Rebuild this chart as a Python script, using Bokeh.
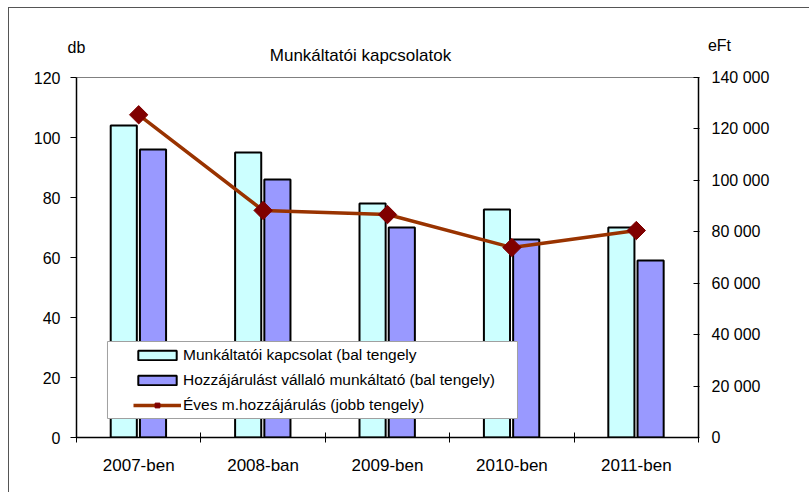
from math import pi
from bokeh.plotting import figure
from bokeh.layouts import column
from bokeh.models import (Range1d, LinearAxis, FixedTicker, Label, Legend, LegendItem,
                          BoxAnnotation, ColumnDataSource)
from bokeh.transform import dodge
from bokeh.embed import file_html
from bokeh.resources import INLINE

# ---- data ----
categories = ["2007-ben", "2008-ban", "2009-ben", "2010-ben", "2011-ben"]
munkaltatoi_kapcsolat = [104, 95, 78, 76, 70]
hozzajarulast_vallalo = [96, 86, 70, 66, 59]
eves_hozzajarulas = [125500, 88300, 86700, 73900, 80500]

left_ticks = [0, 20, 40, 60, 80, 100, 120]
right_ticks = [0, 20000, 40000, 60000, 80000, 100000, 120000, 140000]
right_tick_labels = ["0", "20 000", "40 000", "60 000", "80 000", "100 000", "120 000", "140 000"]

title_text = "Munkáltatói kapcsolatok"
left_unit = "db"
right_unit = "eFt"
legend_labels = ["Munkáltatói kapcsolat (bal tengely",
                 "Hozzájárulást vállaló munkáltató (bal tengely)",
                 "Éves m.hozzájárulás (jobb tengely)"]

FONT = "Liberation Sans"
W = 800
HEAD_H = 60
MAIN_H = 424

# ---- header with title and unit captions ----
head = figure(width=W, height=HEAD_H, x_range=Range1d(0, W), y_range=Range1d(0, HEAD_H),
              output_backend="svg", toolbar_location=None,
              x_axis_location=None, y_axis_location=None,
              min_border=0, min_border_left=0, min_border_right=0,
              min_border_top=0, min_border_bottom=0)
head.frame_align = False
head.outline_line_color = None
head.grid.visible = False
head.background_fill_color = "white"
head.border_fill_color = "white"
head.add_layout(Label(x=351, y=13, text=title_text, text_align="center",
                      text_baseline="middle", text_font=FONT, text_font_size="17px",
                      text_color="black"))
head.add_layout(Label(x=67, y=21, text=left_unit, text_align="center",
                      text_baseline="middle", text_font=FONT, text_font_size="16px",
                      text_color="black"))
head.add_layout(Label(x=710, y=23, text=right_unit, text_align="center",
                      text_baseline="middle", text_font=FONT, text_font_size="16px",
                      text_color="black"))

# ---- main chart ----
xs = [i + 0.5 for i in range(len(categories))]
source = ColumnDataSource(dict(x=xs, a=munkaltatoi_kapcsolat, b=hozzajarulast_vallalo,
                               c=eves_hozzajarulas))

p = figure(width=W, height=MAIN_H, x_range=Range1d(0, len(categories)),
           y_range=Range1d(0, 120), output_backend="svg", toolbar_location=None,
           min_border_left=67, min_border_right=111, min_border_top=9, min_border_bottom=55)
p.frame_align = False
p.extra_y_ranges = {"right": Range1d(0, 140000)}
p.outline_line_color = "#808080"
p.outline_line_width = 1
p.xgrid.visible = False
p.ygrid.visible = False
p.background_fill_color = "white"
p.border_fill_color = "white"

# bottom axis
xa = p.xaxis[0]
xa.ticker = FixedTicker(ticks=xs, minor_ticks=list(range(len(categories) + 1)))
xa.major_label_overrides = {x: c for x, c in zip(xs, categories)}
xa.major_tick_line_color = None
xa.major_tick_out = 0
xa.major_tick_in = 0
xa.minor_tick_line_color = "black"
xa.minor_tick_in = 5
xa.minor_tick_out = 5
xa.major_label_standoff = 13
xa.major_label_text_font = FONT
xa.major_label_text_font_size = "17px"
xa.major_label_text_color = "black"
xa.axis_line_color = "black"
xa.axis_line_width = 1.5

# left axis
ya = p.yaxis[0]
ya.ticker = FixedTicker(ticks=left_ticks)
ya.major_tick_out = 6
ya.major_tick_in = 0
ya.major_tick_line_color = "black"
ya.minor_tick_line_color = None
ya.major_label_standoff = 10
ya.major_label_text_font = FONT
ya.major_label_text_font_size = "16px"
ya.major_label_text_color = "black"
ya.axis_line_color = "black"
ya.axis_line_width = 1.5

# right axis
ra = LinearAxis(y_range_name="right", ticker=FixedTicker(ticks=right_ticks),
                major_label_overrides=dict(zip(right_ticks, right_tick_labels)))
ra.major_tick_out = 1
ra.major_tick_in = 5
ra.major_tick_line_color = "black"
ra.minor_tick_line_color = None
ra.major_label_standoff = 12
ra.major_label_text_font = FONT
ra.major_label_text_font_size = "16px"
ra.major_label_text_color = "black"
ra.axis_line_color = "black"
ra.axis_line_width = 1.5
p.add_layout(ra, "right")

# bars
r1 = p.vbar(x=dodge("x", -0.12), top="a", width=0.21, source=source,
            fill_color="#CCFFFF", line_color="black", line_width=2)
r2 = p.vbar(x=dodge("x", 0.115), top="b", width=0.21, source=source,
            fill_color="#9999FF", line_color="black", line_width=2)

# line
r3 = p.line(x="x", y="c", source=source, y_range_name="right",
            line_color="#993300", line_width=3.5)
r4 = p.scatter(x="x", y="c", source=source, y_range_name="right", marker="square",
               angle=pi / 4, size=13, fill_color="#800000", line_color="#800000")

# legend frame + legend
box = BoxAnnotation(left=0.249, right=3.545, bottom=6.33, top=32.0,
                    fill_color="white", fill_alpha=1.0, line_color="#a0a0a0",
                    line_alpha=1.0, line_width=1)
p.add_layout(box)

legend = Legend(items=[LegendItem(label=legend_labels[0], renderers=[r1]),
                       LegendItem(label=legend_labels[1], renderers=[r2]),
                       LegendItem(label=legend_labels[2], renderers=[r3, r4])],
                location=(57, 22), padding=0, margin=0, spacing=5,
                glyph_width=48, glyph_height=12, label_height=20, label_standoff=2,
                label_text_font=FONT, label_text_font_size="15.5px",
                label_text_color="black",
                background_fill_alpha=0, border_line_color=None)
p.add_layout(legend)

layout = column(head, p, spacing=0, margin=(7, 0, 0, 8),
                styles={"border-left": "1px solid #555555", "border-top": "1px solid #555555"})

open("out.html", "w").write(file_html(layout, INLINE))
